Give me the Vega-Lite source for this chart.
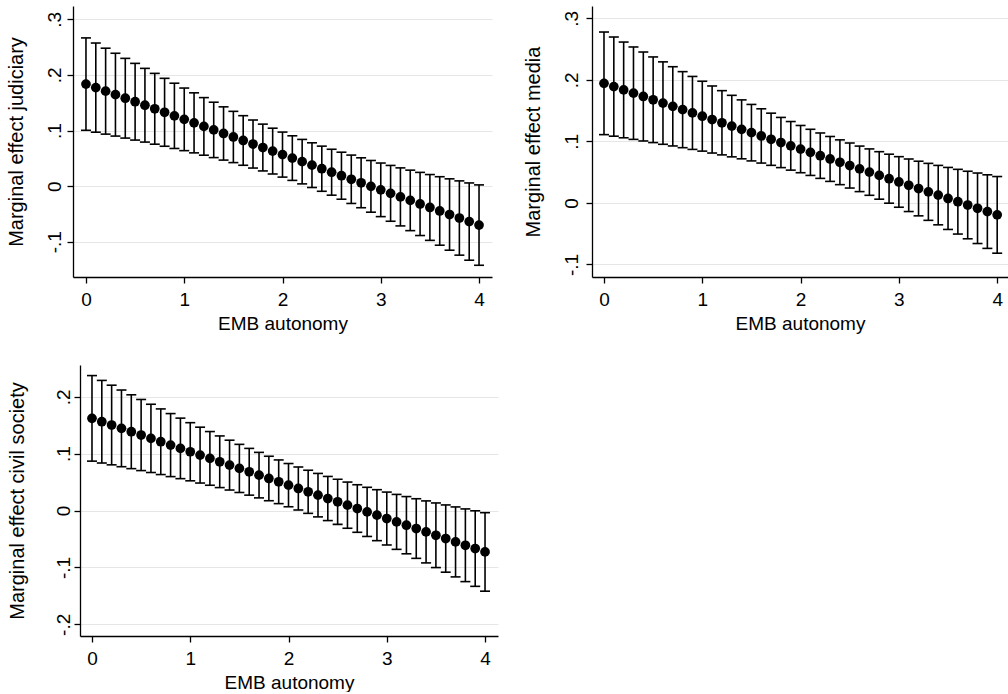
{
  "$schema": "https://vega.github.io/schema/vega-lite/v6.json",
  "padding": {"left": 6, "top": 6, "right": 0, "bottom": 0},
  "background": "white",
  "spacing": 32,
  "datasets": {
    "judiciary": [
      {"x":0,"est":0.1835,"lo":0.1004,"hi":0.2666},
      {"x":0.1,"est":0.1772,"lo":0.0970,"hi":0.2574},
      {"x":0.2,"est":0.1708,"lo":0.0935,"hi":0.2481},
      {"x":0.3,"est":0.1645,"lo":0.0900,"hi":0.2390},
      {"x":0.4,"est":0.1581,"lo":0.0864,"hi":0.2298},
      {"x":0.5,"est":0.1518,"lo":0.0828,"hi":0.2208},
      {"x":0.6,"est":0.1455,"lo":0.0792,"hi":0.2118},
      {"x":0.7,"est":0.1391,"lo":0.0754,"hi":0.2028},
      {"x":0.8,"est":0.1328,"lo":0.0717,"hi":0.1939},
      {"x":0.9,"est":0.1264,"lo":0.0677,"hi":0.1851},
      {"x":1.0,"est":0.1201,"lo":0.0638,"hi":0.1764},
      {"x":1.1,"est":0.1138,"lo":0.0598,"hi":0.1678},
      {"x":1.2,"est":0.1074,"lo":0.0556,"hi":0.1592},
      {"x":1.3,"est":0.1011,"lo":0.0513,"hi":0.1509},
      {"x":1.4,"est":0.0947,"lo":0.0468,"hi":0.1426},
      {"x":1.5,"est":0.0884,"lo":0.0423,"hi":0.1345},
      {"x":1.6,"est":0.0821,"lo":0.0375,"hi":0.1267},
      {"x":1.7,"est":0.0757,"lo":0.0325,"hi":0.1189},
      {"x":1.8,"est":0.0694,"lo":0.0273,"hi":0.1115},
      {"x":1.9,"est":0.0630,"lo":0.0218,"hi":0.1042},
      {"x":2.0,"est":0.0567,"lo":0.0162,"hi":0.0972},
      {"x":2.1,"est":0.0504,"lo":0.0103,"hi":0.0905},
      {"x":2.2,"est":0.0440,"lo":0.0040,"hi":0.0840},
      {"x":2.3,"est":0.0377,"lo":-0.0025,"hi":0.0779},
      {"x":2.4,"est":0.0313,"lo":-0.0093,"hi":0.0719},
      {"x":2.5,"est":0.0250,"lo":-0.0163,"hi":0.0663},
      {"x":2.6,"est":0.0187,"lo":-0.0236,"hi":0.0610},
      {"x":2.7,"est":0.0123,"lo":-0.0312,"hi":0.0558},
      {"x":2.8,"est":0.0060,"lo":-0.0389,"hi":0.0509},
      {"x":2.9,"est":-0.0004,"lo":-0.0469,"hi":0.0461},
      {"x":3.0,"est":-0.0067,"lo":-0.0549,"hi":0.0415},
      {"x":3.1,"est":-0.0130,"lo":-0.0632,"hi":0.0372},
      {"x":3.2,"est":-0.0194,"lo":-0.0716,"hi":0.0328},
      {"x":3.3,"est":-0.0257,"lo":-0.0801,"hi":0.0287},
      {"x":3.4,"est":-0.0321,"lo":-0.0889,"hi":0.0247},
      {"x":3.5,"est":-0.0384,"lo":-0.0976,"hi":0.0208},
      {"x":3.6,"est":-0.0447,"lo":-0.1063,"hi":0.0169},
      {"x":3.7,"est":-0.0511,"lo":-0.1153,"hi":0.0131},
      {"x":3.8,"est":-0.0574,"lo":-0.1242,"hi":0.0094},
      {"x":3.9,"est":-0.0638,"lo":-0.1333,"hi":0.0057},
      {"x":4.0,"est":-0.0701,"lo":-0.1424,"hi":0.0022}
    ],
    "media": [
      {"x":0,"est":0.1943,"lo":0.1109,"hi":0.2777},
      {"x":0.1,"est":0.1890,"lo":0.1084,"hi":0.2696},
      {"x":0.2,"est":0.1836,"lo":0.1058,"hi":0.2614},
      {"x":0.3,"est":0.1783,"lo":0.1032,"hi":0.2534},
      {"x":0.4,"est":0.1729,"lo":0.1006,"hi":0.2452},
      {"x":0.5,"est":0.1676,"lo":0.0980,"hi":0.2372},
      {"x":0.6,"est":0.1622,"lo":0.0952,"hi":0.2292},
      {"x":0.7,"est":0.1569,"lo":0.0925,"hi":0.2213},
      {"x":0.8,"est":0.1515,"lo":0.0897,"hi":0.2133},
      {"x":0.9,"est":0.1462,"lo":0.0869,"hi":0.2055},
      {"x":1.0,"est":0.1409,"lo":0.0841,"hi":0.1977},
      {"x":1.1,"est":0.1355,"lo":0.0810,"hi":0.1900},
      {"x":1.2,"est":0.1302,"lo":0.0780,"hi":0.1824},
      {"x":1.3,"est":0.1248,"lo":0.0748,"hi":0.1748},
      {"x":1.4,"est":0.1195,"lo":0.0716,"hi":0.1674},
      {"x":1.5,"est":0.1141,"lo":0.0682,"hi":0.1600},
      {"x":1.6,"est":0.1088,"lo":0.0647,"hi":0.1529},
      {"x":1.7,"est":0.1034,"lo":0.0610,"hi":0.1458},
      {"x":1.8,"est":0.0981,"lo":0.0573,"hi":0.1389},
      {"x":1.9,"est":0.0927,"lo":0.0532,"hi":0.1322},
      {"x":2.0,"est":0.0874,"lo":0.0490,"hi":0.1258},
      {"x":2.1,"est":0.0821,"lo":0.0446,"hi":0.1196},
      {"x":2.2,"est":0.0767,"lo":0.0398,"hi":0.1136},
      {"x":2.3,"est":0.0714,"lo":0.0349,"hi":0.1079},
      {"x":2.4,"est":0.0660,"lo":0.0296,"hi":0.1024},
      {"x":2.5,"est":0.0607,"lo":0.0241,"hi":0.0973},
      {"x":2.6,"est":0.0553,"lo":0.0183,"hi":0.0923},
      {"x":2.7,"est":0.0500,"lo":0.0123,"hi":0.0877},
      {"x":2.8,"est":0.0446,"lo":0.0060,"hi":0.0832},
      {"x":2.9,"est":0.0393,"lo":-0.0005,"hi":0.0791},
      {"x":3.0,"est":0.0340,"lo":-0.0071,"hi":0.0751},
      {"x":3.1,"est":0.0286,"lo":-0.0141,"hi":0.0713},
      {"x":3.2,"est":0.0233,"lo":-0.0211,"hi":0.0677},
      {"x":3.3,"est":0.0179,"lo":-0.0284,"hi":0.0642},
      {"x":3.4,"est":0.0126,"lo":-0.0357,"hi":0.0609},
      {"x":3.5,"est":0.0072,"lo":-0.0432,"hi":0.0576},
      {"x":3.6,"est":0.0019,"lo":-0.0507,"hi":0.0545},
      {"x":3.7,"est":-0.0035,"lo":-0.0584,"hi":0.0514},
      {"x":3.8,"est":-0.0088,"lo":-0.0661,"hi":0.0485},
      {"x":3.9,"est":-0.0142,"lo":-0.0740,"hi":0.0456},
      {"x":4.0,"est":-0.0195,"lo":-0.0818,"hi":0.0428}
    ],
    "civil": [
      {"x":0,"est":0.1620,"lo":0.0868,"hi":0.2372},
      {"x":0.1,"est":0.1561,"lo":0.0835,"hi":0.2287},
      {"x":0.2,"est":0.1503,"lo":0.0803,"hi":0.2203},
      {"x":0.3,"est":0.1444,"lo":0.0770,"hi":0.2118},
      {"x":0.4,"est":0.1385,"lo":0.0736,"hi":0.2034},
      {"x":0.5,"est":0.1327,"lo":0.0702,"hi":0.1952},
      {"x":0.6,"est":0.1268,"lo":0.0668,"hi":0.1868},
      {"x":0.7,"est":0.1209,"lo":0.0632,"hi":0.1786},
      {"x":0.8,"est":0.1150,"lo":0.0596,"hi":0.1704},
      {"x":0.9,"est":0.1092,"lo":0.0560,"hi":0.1624},
      {"x":1.0,"est":0.1033,"lo":0.0522,"hi":0.1544},
      {"x":1.1,"est":0.0974,"lo":0.0483,"hi":0.1465},
      {"x":1.2,"est":0.0916,"lo":0.0444,"hi":0.1388},
      {"x":1.3,"est":0.0857,"lo":0.0403,"hi":0.1311},
      {"x":1.4,"est":0.0798,"lo":0.0360,"hi":0.1236},
      {"x":1.5,"est":0.0740,"lo":0.0317,"hi":0.1163},
      {"x":1.6,"est":0.0681,"lo":0.0270,"hi":0.1092},
      {"x":1.7,"est":0.0622,"lo":0.0222,"hi":0.1022},
      {"x":1.8,"est":0.0563,"lo":0.0172,"hi":0.0954},
      {"x":1.9,"est":0.0505,"lo":0.0121,"hi":0.0889},
      {"x":2.0,"est":0.0446,"lo":0.0066,"hi":0.0826},
      {"x":2.1,"est":0.0387,"lo":0.0009,"hi":0.0765},
      {"x":2.2,"est":0.0329,"lo":-0.0050,"hi":0.0708},
      {"x":2.3,"est":0.0270,"lo":-0.0112,"hi":0.0652},
      {"x":2.4,"est":0.0211,"lo":-0.0177,"hi":0.0599},
      {"x":2.5,"est":0.0153,"lo":-0.0243,"hi":0.0549},
      {"x":2.6,"est":0.0094,"lo":-0.0312,"hi":0.0500},
      {"x":2.7,"est":0.0035,"lo":-0.0383,"hi":0.0453},
      {"x":2.8,"est":-0.0024,"lo":-0.0456,"hi":0.0408},
      {"x":2.9,"est":-0.0082,"lo":-0.0530,"hi":0.0366},
      {"x":3.0,"est":-0.0141,"lo":-0.0606,"hi":0.0324},
      {"x":3.1,"est":-0.0200,"lo":-0.0683,"hi":0.0283},
      {"x":3.2,"est":-0.0258,"lo":-0.0761,"hi":0.0245},
      {"x":3.3,"est":-0.0317,"lo":-0.0841,"hi":0.0207},
      {"x":3.4,"est":-0.0376,"lo":-0.0921,"hi":0.0169},
      {"x":3.5,"est":-0.0435,"lo":-0.1003,"hi":0.0133},
      {"x":3.6,"est":-0.0493,"lo":-0.1084,"hi":0.0098},
      {"x":3.7,"est":-0.0552,"lo":-0.1167,"hi":0.0063},
      {"x":3.8,"est":-0.0611,"lo":-0.1250,"hi":0.0028},
      {"x":3.9,"est":-0.0669,"lo":-0.1333,"hi":-0.0005},
      {"x":4.0,"est":-0.0728,"lo":-0.1418,"hi":-0.0038}
    ]
  },
  "vconcat": [
    {
      "spacing": 31,
      "hconcat": [
        {
          "width": 419, "height": 271,
          "data": {"name": "judiciary"},
          "encoding": {
            "x": {"field": "x", "type": "quantitative", "title": "EMB autonomy",
                  "scale": {"domain": [-0.132, 4.132], "nice": false, "zero": false},
                  "axis": {"values": [0,1,2,3,4], "format": "d"}}
          },
          "layer": [
            {"mark": {"type": "rule", "color": "black", "strokeWidth": 1.6},
             "encoding": {"y": {"field": "lo", "type": "quantitative", "title": "Marginal effect judiciary",
                                "scale": {"domain": [-0.1635, 0.324], "nice": false, "zero": false},
                                "axis": {"values": [-0.1,0,0.1,0.2,0.3], "labelPadding": 3, "titlePadding": 19}},
                          "y2": {"field": "hi"}}},
            {"mark": {"type": "tick", "orient": "horizontal", "color": "black", "size": 10, "thickness": 1.6, "opacity": 1},
             "encoding": {"y": {"field": "lo", "type": "quantitative", "title": "Marginal effect judiciary",
                                "scale": {"domain": [-0.1635, 0.324], "nice": false, "zero": false}}}},
            {"mark": {"type": "tick", "orient": "horizontal", "color": "black", "size": 10, "thickness": 1.6, "opacity": 1},
             "encoding": {"y": {"field": "hi", "type": "quantitative", "title": "Marginal effect judiciary",
                                "scale": {"domain": [-0.1635, 0.324], "nice": false, "zero": false}}}},
            {"mark": {"type": "point", "filled": true, "color": "black", "size": 95, "opacity": 1},
             "encoding": {"y": {"field": "est", "type": "quantitative", "title": "Marginal effect judiciary",
                                "scale": {"domain": [-0.1635, 0.324], "nice": false, "zero": false}}}}
          ]
        },
        {
          "width": 416, "height": 271,
          "data": {"name": "media"},
          "encoding": {
            "x": {"field": "x", "type": "quantitative", "title": "EMB autonomy",
                  "scale": {"domain": [-0.122, 4.11], "nice": false, "zero": false},
                  "axis": {"values": [0,1,2,3,4], "format": "d"}}
          },
          "layer": [
            {"mark": {"type": "rule", "color": "black", "strokeWidth": 1.6},
             "encoding": {"y": {"field": "lo", "type": "quantitative", "title": "Marginal effect media",
                                "scale": {"domain": [-0.1205, 0.32], "nice": false, "zero": false},
                                "axis": {"values": [-0.1,0,0.1,0.2,0.3], "labelPadding": 5, "titlePadding": 19}},
                          "y2": {"field": "hi"}}},
            {"mark": {"type": "tick", "orient": "horizontal", "color": "black", "size": 10, "thickness": 1.6, "opacity": 1},
             "encoding": {"y": {"field": "lo", "type": "quantitative", "title": "Marginal effect media",
                                "scale": {"domain": [-0.1205, 0.32], "nice": false, "zero": false}}}},
            {"mark": {"type": "tick", "orient": "horizontal", "color": "black", "size": 10, "thickness": 1.6, "opacity": 1},
             "encoding": {"y": {"field": "hi", "type": "quantitative", "title": "Marginal effect media",
                                "scale": {"domain": [-0.1205, 0.32], "nice": false, "zero": false}}}},
            {"mark": {"type": "point", "filled": true, "color": "black", "size": 95, "opacity": 1},
             "encoding": {"y": {"field": "est", "type": "quantitative", "title": "Marginal effect media",
                                "scale": {"domain": [-0.1205, 0.32], "nice": false, "zero": false}}}}
          ]
        }
      ]
    },
    {
      "spacing": -68,
      "hconcat": [
        {
          "width": 1, "height": 1,
          "data": {"values": []},
          "mark": {"type": "point", "opacity": 0}
        },
        {
          "width": 418, "height": 271,
          "data": {"name": "civil"},
          "encoding": {
            "x": {"field": "x", "type": "quantitative", "title": "EMB autonomy",
                  "scale": {"domain": [-0.122, 4.132], "nice": false, "zero": false},
                  "axis": {"values": [0,1,2,3,4], "format": "d"}}
          },
          "layer": [
            {"mark": {"type": "rule", "color": "black", "strokeWidth": 1.6},
             "encoding": {"y": {"field": "lo", "type": "quantitative", "title": "Marginal effect civil society",
                                "scale": {"domain": [-0.2206, 0.2558], "nice": false, "zero": false},
                                "axis": {"values": [-0.2,-0.1,0,0.1,0.2], "labelPadding": 1, "titlePadding": 27}},
                          "y2": {"field": "hi"}}},
            {"mark": {"type": "tick", "orient": "horizontal", "color": "black", "size": 10, "thickness": 1.6, "opacity": 1},
             "encoding": {"y": {"field": "lo", "type": "quantitative", "title": "Marginal effect civil society",
                                "scale": {"domain": [-0.2206, 0.2558], "nice": false, "zero": false}}}},
            {"mark": {"type": "tick", "orient": "horizontal", "color": "black", "size": 10, "thickness": 1.6, "opacity": 1},
             "encoding": {"y": {"field": "hi", "type": "quantitative", "title": "Marginal effect civil society",
                                "scale": {"domain": [-0.2206, 0.2558], "nice": false, "zero": false}}}},
            {"mark": {"type": "point", "filled": true, "color": "black", "size": 95, "opacity": 1},
             "encoding": {"y": {"field": "est", "type": "quantitative", "title": "Marginal effect civil society",
                                "scale": {"domain": [-0.2206, 0.2558], "nice": false, "zero": false}}}}
          ]
        }
      ]
    }
  ],
  "config": {
    "font": "Liberation Sans",
    "view": {"stroke": null},
    "axis": {
      "domainColor": "black", "domainWidth": 1.3,
      "tickColor": "black", "tickWidth": 1.3, "tickSize": 6,
      "labelColor": "black", "titleColor": "black",
      "labelFontSize": 19, "titleFontSize": 19, "titleFontWeight": "normal",
      "labelFont": "Liberation Sans", "titleFont": "Liberation Sans",
      "gridColor": "#e6e6e6", "gridWidth": 1,
      "labelFlush": false, "labelOverlap": false
    },
    "axisX": {"grid": false, "labelPadding": 7, "titlePadding": 5},
    "axisY": {
      "grid": true, "labelAngle": -90, "labelAlign": "center", "labelBaseline": "bottom", "titleFontSize": 20,
      "labelExpr": "datum.value == 0 ? '0' : (datum.value < 0 ? '-' : '') + '.' + format(abs(datum.value) * 10, '.0f')"
    }
  }
}
